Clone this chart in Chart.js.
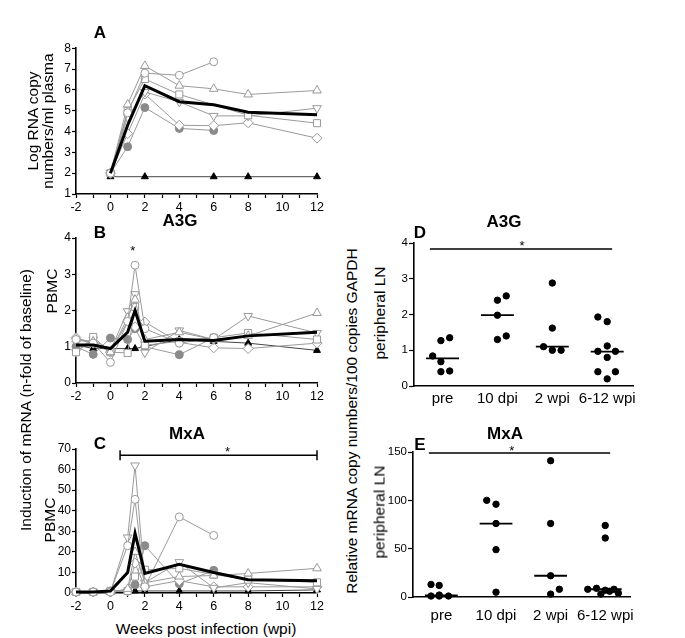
<!DOCTYPE html>
<html>
<head>
<meta charset="utf-8">
<script src="https://cdn.jsdelivr.net/npm/chart.js@4"></script>
<style>
  body { margin: 0; background: #fff; }
  #fig { position: relative; width: 685px; height: 638px; font-family: "Liberation Sans", Arial, sans-serif; color: #000; }
  #fig canvas { position: absolute; }
  .lbl { position: absolute; white-space: nowrap; text-align: center; line-height: 15px; }
</style>
</head>
<body>
<div id="fig">
  <canvas id="cA" width="294" height="180" style="left:36px;top:40px"></canvas>
  <canvas id="cB" width="294" height="175" style="left:36px;top:228px"></canvas>
  <canvas id="cC" width="294" height="175" style="left:36px;top:440px"></canvas>
  <canvas id="cD" width="255" height="180" style="left:390px;top:230px"></canvas>
  <canvas id="cE" width="265" height="198" style="left:380px;top:440px"></canvas>
</div>
<script>
// ---- data ----
const weeksA = [0, 1, 2, 4, 6, 8, 12];
const weeksBC = [-2, -1, 0, 1, 1.43, 2, 4, 6, 8, 12];

// A: log RNA copies / ml plasma
const rnaMean     = [2.0, 4.3, 6.2, 5.43, 5.28, 4.93, 4.8];
const rnaCircle   = [2.0, 4.9, 6.8, 6.7, 7.35, null, null];
const rnaTriUp    = [2.0, 5.3, 7.15, 6.2, 6.05, 5.78, 5.97];
const rnaSquare   = [2.0, 5.0, 6.52, 5.78, null, 4.78, 4.4];
const rnaTriDown  = [2.0, 4.7, 5.9, 5.42, 4.75, 4.75, 5.12];
const rnaDiamond  = [2.0, 3.9, 5.8, 4.3, 4.28, 4.42, 3.68];
const rnaDot      = [2.0, 3.27, 5.15, 4.15, 4.05, null, null];
const rnaBlackTri = [1.83, null, 1.83, null, 1.83, 1.83, 1.83];

// B: A3G PBMC (n-fold of baseline)
const a3gMean     = [1.05, 1.05, 0.95, 1.4, 2.0, 1.15, 1.2, 1.17, 1.3, 1.4];
const a3gCircle   = [1.2, 1.1, 0.57, 1.7, 3.25, 1.5, 1.1, 1.25, null, null];
const a3gTriUp    = [1.2, 1.15, 0.85, 1.8, 2.3, 1.2, 1.4, 1.2, 1.3, 1.93];
const a3gSquare   = [0.85, 1.27, 0.85, 0.83, 2.1, 1.04, 1.15, 1.25, 1.38, 1.2];
const a3gTriDown  = [0.85, 1.2, 0.9, 1.98, 2.45, 0.84, 1.45, 1.2, 1.85, 1.38];
const a3gDiamond  = [1.25, 1.1, 0.85, 1.7, 1.55, 1.68, 1.12, 0.97, 0.95, 1.1];
const a3gDot      = [1.0, 0.79, 1.24, 1.2, 1.5, 1.0, 0.78, 1.25, null, null];
const a3gBlackTri = [1.05, 0.95, null, 0.95, 0.95, null, 1.2, 1.15, 1.1, 0.9];

// C: MxA PBMC (n-fold of baseline)
const mxaMean     = [0.5, 0.5, 1, 10, 29, 9.5, 14, 10, 6.5, 6];
const mxaCircle   = [0.5, 0.5, 0.5, 23, 45.5, 3, 37, 28, null, null];
const mxaTriUp    = [0.5, 0.5, 0.5, 2, 20, 5, 8, 8.5, 9.5, 12];
const mxaSquare   = [0.5, 0.5, 1, 1, 8, 11.3, 12, 9, 6.5, 5.2];
const mxaTriDown  = [0.5, 0.5, 0.5, 27, 62, 5, 15, 2.5, 5, 2];
const mxaDiamond  = [0.5, 0.5, 0.5, 1, 14.5, 3, 6, 3, 3, 3];
const mxaDot      = [0.5, 0.5, 1, 1, 4, 23, 4.5, 11, null, null];
const mxaBlackTri = [0.5, 0.5, null, 1, 1, 1, 1, 1, 1, 1.5];

// D/E: peripheral LN
const groups = ['pre', '10 dpi', '2 wpi', '6-12 wpi'];
const lnA3g = [[1.35, 1.27, 0.84, 0.68, 0.40, 0.42], [2.52, 2.40, 1.98, 1.40, 1.30], [2.88, 1.62, 1.10, 1.00, 1.00], [1.93, 1.80, 1.12, 0.97, 0.97, 0.80, 0.40, 0.40, 0.20]];
const lnA3gJitter = [[0.13, -0.03, -0.18, -0.03, -0.03, 0.13], [0.16, 0, 0, 0.16, 0], [0, 0, -0.16, 0, 0.16], [-0.17, 0, 0, -0.17, 0.15, 0, -0.17, 0.15, 0]];
const lnA3gMedian = [0.77, 1.98, 1.1, 0.96];
const lnMxa = [[13, 12, 1, 1, 1, 2], [100, 96, 76, 49, 5], [141, 76, 22, 8, 3], [74, 61, 9, 8, 7, 8, 3, 6, 4]];
const lnMxaJitter = [[-0.19, -0.04, -0.19, -0.04, 0.13, -0.04], [-0.17, 0, 0, 0, 0], [0, 0, 0, 0.16, 0], [0, 0, -0.16, -0.32, 0, 0.16, -0.08, 0.08, 0.24]];
const lnMxaMedian = [1.7, 76, 22, 8];

// ---- styles ----
Chart.defaults.font.family = '"Liberation Sans", Arial, sans-serif';
Chart.defaults.color = '#000';
const gray = '#9a9a9a';
const mk = {
  mean:     { line: '#000', width: 3, r: 0 },
  circle:   { style: 'circle',   fill: '#fff', stroke: gray, line: gray, r: 4 },
  triUp:    { style: 'triangle', fill: '#fff', stroke: gray, line: gray, r: 5 },
  square:   { style: 'rect',     fill: '#fff', stroke: gray, line: gray, r: 5 },
  triDown:  { style: 'triangle', fill: '#fff', stroke: gray, line: gray, r: 5, rot: 180 },
  diamond:  { style: 'rectRot',  fill: '#fff', stroke: gray, line: gray, r: 5 },
  dot:      { style: 'circle',   fill: '#8a8a8a', stroke: '#8a8a8a', line: gray, r: 4 },
  blackTri: { style: 'triangle', fill: '#000', stroke: '#000', line: '#444', r: 4 }
};

function ds(xs, vals, m, order) {
  return {
    data: xs.map((x, i) => ({ x: x, y: vals[i] })),
    borderColor: m.line, borderWidth: m.width || 1,
    pointStyle: m.style || 'circle', pointRotation: m.rot || 0, pointRadius: m.r,
    pointBackgroundColor: m.fill, pointBorderColor: m.stroke, pointBorderWidth: 1,
    tension: 0, spanGaps: true, clip: false, order: order
  };
}

// brackets and stars drawn in data coordinates
const annot = {
  id: 'annot',
  afterDatasetsDraw(chart, args, opts) {
    const ctx = chart.ctx, x = chart.scales.x, y = chart.scales.y;
    ctx.save();
    ctx.strokeStyle = '#000';
    ctx.lineWidth = 1.5;
    (opts.brackets || []).forEach(b => {
      const x1 = x.getPixelForValue(b.x1), x2 = x.getPixelForValue(b.x2), yy = y.getPixelForValue(b.y);
      ctx.beginPath();
      ctx.moveTo(x1, yy); ctx.lineTo(x2, yy);
      if (b.caps) {
        ctx.moveTo(x1, yy - 5); ctx.lineTo(x1, yy + 5);
        ctx.moveTo(x2, yy - 5); ctx.lineTo(x2, yy + 5);
      }
      ctx.stroke();
    });
    ctx.fillStyle = '#000';
    ctx.font = '13px "Liberation Sans", Arial, sans-serif';
    ctx.textAlign = 'center';
    ctx.textBaseline = 'middle';
    (opts.stars || []).forEach(s => ctx.fillText('*', x.getPixelForValue(s.x), y.getPixelForValue(s.y) + 3));
    ctx.restore();
  }
};

function axisGrid() {
  return { drawOnChartArea: false, drawTicks: true, tickLength: 4, color: '#000', tickWidth: 1.2 };
}

function timeChart(id, series, ymin, ymax, ystep, yw, xh, xfont, xpad, padTop, annotOpts) {
  return new Chart(document.getElementById(id), {
    type: 'line',
    data: { datasets: series },
    options: {
      responsive: false, animation: false,
      layout: { padding: { top: padTop, right: 13, left: 0, bottom: 0 } },
      plugins: { legend: { display: false }, tooltip: { enabled: false }, annot: annotOpts || {} },
      scales: {
        x: {
          type: 'linear', min: -2, max: 12,
          ticks: { stepSize: 1, autoSkip: false, maxRotation: 0, padding: xpad, font: { size: xfont },
                   callback: v => (v % 2 === 0 ? v : '') },
          grid: axisGrid(), border: { color: '#000', width: 1.6 },
          afterFit: s => { s.height = xh; }
        },
        y: {
          min: ymin, max: ymax,
          ticks: { stepSize: ystep, padding: 1, font: { size: 12 } },
          grid: axisGrid(), border: { color: '#000', width: 1.6 },
          afterFit: s => { s.width = yw; }
        }
      }
    },
    plugins: [annot]
  });
}

function lnChart(id, vals, jitter, medians, ymax, ystep, yw, xh, xpad, padTop, annotOpts) {
  const pts = [];
  vals.forEach((g, gi) => g.forEach((v, j) => pts.push({ x: gi + 1 + jitter[gi][j], y: v })));
  const sets = [{
    data: pts, showLine: false, pointRadius: 3.2, pointBackgroundColor: '#000',
    pointBorderColor: '#000', clip: false
  }];
  medians.forEach((m, gi) => sets.push({
    data: [{ x: gi + 1 - 0.3, y: m }, { x: gi + 1 + 0.3, y: m }],
    borderColor: '#000', borderWidth: 1.8, pointRadius: 0, clip: false
  }));
  return new Chart(document.getElementById(id), {
    type: 'line',
    data: { datasets: sets },
    options: {
      responsive: false, animation: false,
      layout: { padding: { top: padTop, right: 12, left: 0, bottom: 0 } },
      plugins: { legend: { display: false }, tooltip: { enabled: false }, annot: annotOpts },
      scales: {
        x: {
          type: 'linear', min: 0.48, max: 4.47,
          afterBuildTicks: s => { s.ticks = groups.map((g, i) => ({ value: i + 1 })); },
          ticks: { autoSkip: false, maxRotation: 0, padding: xpad, font: { size: 15 },
                   callback: (v, i) => groups[i] },
          grid: { display: false, drawTicks: false }, border: { color: '#000', width: 1.6 },
          afterFit: s => { s.height = xh; }
        },
        y: {
          min: 0, max: ymax,
          ticks: { stepSize: ystep, padding: 1, font: { size: 11.5 } },
          grid: { drawOnChartArea: false, drawTicks: true, tickLength: 5, color: '#000', tickWidth: 1.2 },
          border: { color: '#000', width: 1.6 },
          afterFit: s => { s.width = yw; }
        }
      }
    },
    plugins: [annot]
  });
}

function panelSets(xs, list) {
  return list.map((p, i) => ds(xs, p[0], p[1], i === 0 ? 0 : 1));
}

timeChart('cA', panelSets(weeksA, [
  [rnaMean, mk.mean], [rnaCircle, mk.circle], [rnaTriUp, mk.triUp], [rnaSquare, mk.square],
  [rnaTriDown, mk.triDown], [rnaDiamond, mk.diamond], [rnaDot, mk.dot], [rnaBlackTri, mk.blackTri]
]), 1, 8, 1, 40, 26, 12.5, 2, 8);

timeChart('cB', panelSets(weeksBC, [
  [a3gMean, mk.mean], [a3gCircle, mk.circle], [a3gTriUp, mk.triUp], [a3gSquare, mk.square],
  [a3gTriDown, mk.triDown], [a3gDiamond, mk.diamond], [a3gDot, mk.dot], [a3gBlackTri, mk.blackTri]
]), 0, 4, 1, 40, 20, 12.5, 2, 10, { stars: [{ x: 1.3, y: 3.72 }] });

timeChart('cC', panelSets(weeksBC, [
  [mxaMean, mk.mean], [mxaCircle, mk.circle], [mxaTriUp, mk.triUp], [mxaSquare, mk.square],
  [mxaTriDown, mk.triDown], [mxaDiamond, mk.diamond], [mxaDot, mk.dot], [mxaBlackTri, mk.blackTri]
]), 0, 70, 10, 40, 22, 12.5, 2, 9, { brackets: [{ x1: 0.56, x2: 12, y: 67, caps: true }], stars: [{ x: 6.8, y: 70 }] });

lnChart('cD', lnA3g, lnA3gJitter, lnA3gMedian, 4, 1, 24, 24, 4, 13,
  { brackets: [{ x1: 0.77, x2: 4.09, y: 3.83 }], stars: [{ x: 2.45, y: 4.0 }] });

lnChart('cE', lnMxa, lnMxaJitter, lnMxaMedian, 150, 50, 33, 41, 10, 12,
  { brackets: [{ x1: 0.77, x2: 4.09, y: 149 }], stars: [{ x: 2.29, y: 154 }] });

// ---- text ----
const fig = document.getElementById('fig');
function addText(html, x, y, size, bold, rotate) {
  const d = document.createElement('div');
  d.className = 'lbl';
  d.innerHTML = html;
  d.style.left = x + 'px';
  d.style.top = y + 'px';
  d.style.fontSize = size + 'px';
  d.style.fontWeight = bold ? 'bold' : 'normal';
  d.style.transform = 'translate(-50%, -50%)' + (rotate ? ' rotate(-90deg)' : '');
  fig.appendChild(d);
}
addText('A', 100, 32, 17, true);
addText('B', 100, 232, 17, true);
addText('A3G', 180, 220, 17, true);
addText('C', 100, 443, 17, true);
addText('MxA', 187, 433, 17, true);
addText('D', 420, 232, 17, true);
addText('A3G', 504, 221, 17, true);
addText('E', 420, 444, 17, true);
addText('MxA', 505, 433, 17, true);
addText('Log RNA copy<br>numbers/ml plasma', 40, 121, 15.5, false, true);
addText('PBMC', 51, 291, 15.5, false, true);
addText('PBMC', 49, 520, 15.5, false, true);
addText('Induction of mRNA (n-fold of baseline)', 25, 400, 15.5, false, true);
addText('Weeks post infection (wpi)', 206, 628, 15.5, false);
addText('Relative mRNA copy numbers/100 copies GAPDH', 351, 421, 15.5, false, true);
addText('peripheral LN', 379, 313, 15.5, false, true);
addText('peripheral LN', 379, 512, 15.5, false, true);
</script>
</body>
</html>
